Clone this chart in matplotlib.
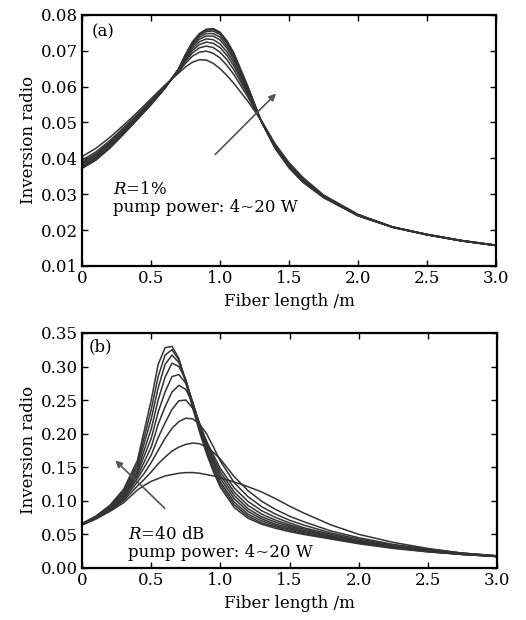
import matplotlib
matplotlib.use("Agg")
import matplotlib.pyplot as plt

plt.rcParams['font.family'] = ['DejaVu Serif']
plt.rcParams['mathtext.fontset'] = 'dejavuserif'

# ---------------- data: panel (a), R = 1 % ----------------
xa = [0, 0.1, 0.2, 0.3, 0.4, 0.5, 0.6, 0.7, 0.75, 0.8, 0.85, 0.9, 0.95, 1.0,
      1.05, 1.1, 1.2, 1.3, 1.4, 1.5, 1.6, 1.75, 2.0, 2.25, 2.5, 2.75, 3.0]
a_curves = [
    [0.0405, 0.0428, 0.0458, 0.0492, 0.0528, 0.0566, 0.0604, 0.0638, 0.0655, 0.0668, 0.0675, 0.0674, 0.0665, 0.0650,
     0.0631, 0.0609, 0.0560, 0.0505, 0.0440, 0.0388, 0.0347, 0.0298, 0.0244, 0.0209, 0.0188, 0.0171, 0.0158],
    [0.0395, 0.0418, 0.0449, 0.0485, 0.0522, 0.0561, 0.0601, 0.0642, 0.0665, 0.0685, 0.0696, 0.0699, 0.0693, 0.0680,
     0.0659, 0.0634, 0.0572, 0.0504, 0.0437, 0.0384, 0.0343, 0.0296, 0.0243, 0.0209, 0.0188, 0.0171, 0.0158],
    [0.0390, 0.0413, 0.0445, 0.0481, 0.0519, 0.0559, 0.0600, 0.0643, 0.0671, 0.0694, 0.0708, 0.0713, 0.0709, 0.0696,
     0.0675, 0.0647, 0.0579, 0.0504, 0.0435, 0.0382, 0.0341, 0.0295, 0.0242, 0.0209, 0.0188, 0.0171, 0.0158],
    [0.0386, 0.0409, 0.0441, 0.0477, 0.0516, 0.0557, 0.0599, 0.0645, 0.0675, 0.0701, 0.0717, 0.0724, 0.0721, 0.0709,
     0.0687, 0.0658, 0.0584, 0.0503, 0.0433, 0.0380, 0.0339, 0.0294, 0.0242, 0.0208, 0.0188, 0.0171, 0.0158],
    [0.0383, 0.0406, 0.0438, 0.0475, 0.0514, 0.0555, 0.0598, 0.0646, 0.0679, 0.0707, 0.0725, 0.0733, 0.0731, 0.0719,
     0.0697, 0.0667, 0.0589, 0.0503, 0.0432, 0.0378, 0.0338, 0.0293, 0.0241, 0.0208, 0.0187, 0.0170, 0.0157],
    [0.0379, 0.0402, 0.0435, 0.0472, 0.0512, 0.0553, 0.0597, 0.0647, 0.0682, 0.0713, 0.0732, 0.0741, 0.0741, 0.0730,
     0.0707, 0.0675, 0.0593, 0.0503, 0.0431, 0.0377, 0.0337, 0.0293, 0.0241, 0.0208, 0.0187, 0.0170, 0.0157],
    [0.0377, 0.0400, 0.0432, 0.0470, 0.0511, 0.0552, 0.0596, 0.0648, 0.0685, 0.0717, 0.0738, 0.0748, 0.0748, 0.0738,
     0.0714, 0.0682, 0.0596, 0.0502, 0.0430, 0.0376, 0.0336, 0.0292, 0.0241, 0.0208, 0.0187, 0.0170, 0.0157],
    [0.0374, 0.0397, 0.0430, 0.0469, 0.0509, 0.0551, 0.0596, 0.0649, 0.0688, 0.0721, 0.0743, 0.0754, 0.0755, 0.0745,
     0.0721, 0.0688, 0.0599, 0.0502, 0.0429, 0.0375, 0.0335, 0.0291, 0.0240, 0.0208, 0.0187, 0.0170, 0.0157],
    [0.0373, 0.0396, 0.0429, 0.0468, 0.0509, 0.0550, 0.0595, 0.0650, 0.0689, 0.0723, 0.0746, 0.0757, 0.0759, 0.0749,
     0.0725, 0.0691, 0.0601, 0.0502, 0.0428, 0.0374, 0.0334, 0.0291, 0.0240, 0.0208, 0.0187, 0.0170, 0.0157],
    [0.0372, 0.0395, 0.0428, 0.0467, 0.0508, 0.0550, 0.0595, 0.0650, 0.0690, 0.0725, 0.0748, 0.0760, 0.0762, 0.0752,
     0.0728, 0.0694, 0.0602, 0.0502, 0.0428, 0.0374, 0.0334, 0.0291, 0.0240, 0.0208, 0.0187, 0.0170, 0.0157],
]

# ---------------- data: panel (b), R = 40 dB ----------------
xb = [0, 0.1, 0.2, 0.3, 0.4, 0.45, 0.5, 0.55, 0.6, 0.65, 0.7, 0.75, 0.8, 0.85, 0.9, 0.95, 1.0,
      1.1, 1.2, 1.3, 1.4, 1.5, 1.6, 1.8, 2.0, 2.25, 2.5, 2.75, 3.0]
b_curves = [
    [.064, .073, .084, .097, .116, .123, .129, .133, .137, .139, .141, .142, .142, .141, .139, .137, .134,
     .128, .121, .113, .103, .092, .082, .064, .050, .038, .029, .022, .018],
    [.064, .073, .085, .100, .122, .132, .143, .155, .165, .174, .180, .184, .186, .185, .180, .172, .162,
     .136, .115, .099, .087, .077, .069, .055, .045, .035, .028, .022, .018],
    [.065, .074, .086, .102, .128, .141, .157, .175, .193, .208, .218, .223, .222, .214, .200, .180, .159,
     .127, .106, .091, .080, .071, .064, .052, .043, .034, .027, .022, .018],
    [.065, .074, .087, .104, .133, .150, .168, .194, .216, .236, .249, .250, .238, .213, .189, .168, .148,
     .119, .099, .085, .075, .067, .060, .050, .041, .033, .026, .021, .017],
    [.065, .075, .088, .106, .137, .158, .180, .214, .240, .262, .272, .266, .245, .215, .187, .164, .143,
     .113, .093, .080, .071, .064, .058, .048, .040, .032, .026, .021, .017],
    [.065, .075, .089, .108, .141, .167, .193, .232, .262, .285, .288, .275, .246, .214, .185, .160, .138,
     .108, .088, .076, .068, .062, .056, .047, .039, .031, .025, .021, .017],
    [.065, .076, .090, .110, .145, .176, .207, .250, .284, .305, .300, .280, .247, .212, .182, .156, .133,
     .103, .084, .073, .065, .060, .054, .046, .038, .031, .025, .021, .017],
    [.066, .076, .091, .112, .150, .186, .222, .268, .303, .317, .306, .280, .244, .209, .178, .151, .128,
     .098, .080, .070, .063, .058, .053, .045, .038, .030, .025, .020, .017],
    [.066, .077, .092, .115, .155, .195, .236, .285, .317, .325, .310, .279, .241, .206, .174, .147, .124,
     .094, .077, .067, .061, .056, .051, .044, .037, .030, .024, .020, .017],
    [.066, .077, .093, .117, .160, .205, .250, .303, .328, .330, .312, .276, .238, .202, .170, .143, .120,
     .090, .074, .065, .059, .054, .050, .043, .036, .029, .024, .020, .017],
]

xticks = [0, 0.5, 1.0, 1.5, 2.0, 2.5, 3.0]
xticklabels = ['0', '0.5', '1.0', '1.5', '2.0', '2.5', '3.0']
a_yticks = [0.01, 0.02, 0.03, 0.04, 0.05, 0.06, 0.07, 0.08]
b_yticks = [0.00, 0.05, 0.10, 0.15, 0.20, 0.25, 0.30, 0.35]

line_color = '#333333'
fs = 12

fig = plt.figure(figsize=(5.26, 6.2), dpi=100)
ax_a = fig.add_axes([0.156, 0.571, 0.787, 0.405])
ax_b = fig.add_axes([0.156, 0.084, 0.789, 0.379])


def style(ax, yticks, ylim, yfmt):
    ax.set_xlim(0, 3.0)
    ax.set_ylim(*ylim)
    ax.set_xticks(xticks)
    ax.set_xticklabels(xticklabels, fontsize=fs)
    ax.set_yticks(yticks)
    ax.set_yticklabels([yfmt.format(v) for v in yticks], fontsize=fs)
    ax.tick_params(direction='in', length=4, width=1, top=True, right=True, pad=3)
    for s in ax.spines.values():
        s.set_linewidth(1.6)
    ax.set_xlabel('Fiber length /m', fontsize=fs, labelpad=4)
    ax.set_ylabel('Inversion radio', fontsize=fs, labelpad=3)


for ys in a_curves:
    ax_a.plot(xa, ys, color=line_color, lw=1.1)
style(ax_a, a_yticks, (0.01, 0.08), '{:.2f}')
ax_a.annotate('', xy=(1.42, 0.0586), xytext=(0.95, 0.0405),
              arrowprops=dict(arrowstyle='-|>', color='#555555', lw=1.2,
                              mutation_scale=10))
ax_a.text(0.07, 0.0741, '(a)', fontsize=fs, ha='left', va='baseline')
ax_a.text(0.225, 0.0251, r'$R$=1%' + '\n' + 'pump power: 4~20 W', fontsize=fs,
          ha='left', va='baseline', linespacing=1.05)

for ys in b_curves:
    ax_b.plot(xb, ys, color=line_color, lw=1.1)
style(ax_b, b_yticks, (0.0, 0.35), '{:.2f}')
ax_b.annotate('', xy=(0.226, 0.163), xytext=(0.612, 0.086),
              arrowprops=dict(arrowstyle='-|>', color='#555555', lw=1.2,
                              mutation_scale=10))
ax_b.text(0.046, 0.322, '(b)', fontsize=fs, ha='left', va='baseline')
ax_b.text(0.333, 0.0169, r'$R$=40 dB' + '\n' + 'pump power: 4~20 W', fontsize=fs,
          ha='left', va='baseline', linespacing=1.05)

fig.savefig('out.png', dpi=100)
